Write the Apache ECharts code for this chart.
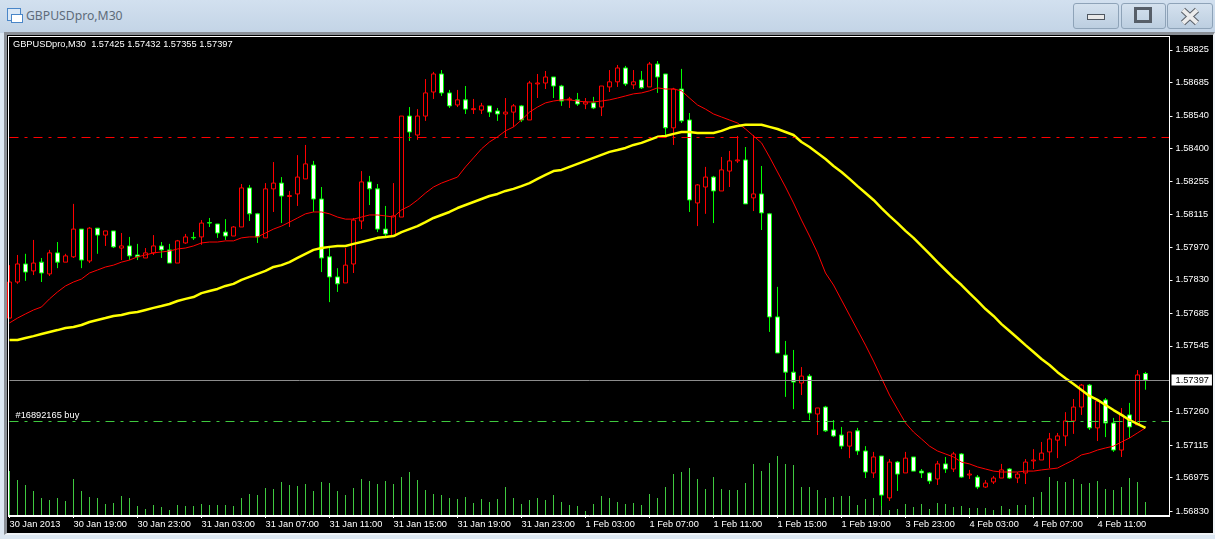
<!DOCTYPE html>
<html>
<head>
<meta charset="utf-8">
<title>GBPUSDpro,M30</title>
<script src="https://cdn.jsdelivr.net/npm/echarts@6/dist/echarts.min.js"></script>
<style>
html, body { margin: 0; padding: 0; width: 1215px; height: 539px; overflow: hidden; }
body { position: relative; background: linear-gradient(#d2e0ef 0, #c3d4e6 33px, #dce7f2 33px); font-family: "Noto Sans", sans-serif; }
#panel { position: absolute; left: 4px; top: 32px; width: 1206px; height: 498px; background: #000; border-left: 3px solid #8a8f96; border-top: 3px solid #8a8f96; border-right: 2px solid #f0f4f8; border-bottom: 2px solid #f0f4f8; }
#frame { position: absolute; left: 8px; top: 36px; width: 1160px; height: 479px; border: 1px solid #fff; pointer-events: none; }
#chart { position: absolute; left: 0; top: 0; width: 1215px; height: 539px; }
#name { position: absolute; left: 26px; top: 7px; font-size: 12.2px; line-height: 18px; color: #5d6b7a; }
#icon { position: absolute; left: 7px; top: 8px; width: 12px; height: 11px; border: 1px solid #4a86c8; background: #dbe8f6; }
#icon i { position: absolute; left: 3px; top: 5px; width: 10px; height: 7px; background: #fff; border: 1px solid #4a86c8; }
.btn { position: absolute; top: 3px; height: 24px; border: 1px solid #8ea3b8; border-radius: 3px; background: linear-gradient(#d4e1ee, #bccee0); }
.glyph { position: absolute; background: #e8e8e8; border: 1px solid #4e5660; box-sizing: border-box; }
</style>
</head>
<body>
<div id="panel"></div>
<div id="icon"><i></i></div>
<div id="name">GBPUSDpro,M30</div>
<div class="btn" style="left:1073px;width:44px"><div class="glyph" style="left:13px;top:10px;width:18px;height:6px"></div></div>
<div class="btn" style="left:1121px;width:43px"><div class="glyph" style="left:12px;top:3px;width:18px;height:16px;border-width:3px;background:transparent;border-color:#565e68"></div></div>
<div class="btn" style="left:1167px;width:44px"><svg width="44" height="24"><path d="M15 6 L29 19 M29 6 L15 19" stroke="#5a6068" stroke-width="6"/><path d="M15 6 L29 19 M29 6 L15 19" stroke="#ececec" stroke-width="4"/></svg></div>
<div id="chart"></div>
<div id="frame"></div>
<script>
const symbol = 'GBPUSDpro,M30';
const tickLabels = ['30 Jan 2013', '30 Jan 19:00', '30 Jan 23:00', '31 Jan 03:00', '31 Jan 07:00', '31 Jan 11:00',
  '31 Jan 15:00', '31 Jan 19:00', '31 Jan 23:00', '1 Feb 03:00', '1 Feb 07:00', '1 Feb 11:00',
  '1 Feb 15:00', '1 Feb 19:00', '3 Feb 23:00', '4 Feb 03:00', '4 Feb 07:00', '4 Feb 11:00'];
const priceTicks = [1.58825, 1.58685, 1.58540, 1.58400, 1.58255, 1.58115, 1.57970, 1.57830, 1.57685, 1.57545,
  1.57260, 1.57115, 1.56975, 1.56830];

const opens = [
  1.57665,1.57821,1.57899,1.57869,1.57907,1.57856,1.57947,1.57907,1.57930,1.58050,
  1.57912,1.58054,1.58024,1.58042,1.57968,1.57977,1.57938,1.57925,1.57947,1.57977,
  1.57960,1.57903,1.57990,1.58014,1.58016,1.58078,1.58072,1.58037,1.58020,1.58059,
  1.58228,1.58116,1.58012,1.58224,1.58249,1.58191,1.58202,1.58267,1.58327,1.58180,
  1.57930,1.57843,1.57817,1.57899,1.58085,1.58254,1.58224,1.58050,1.58020,1.58102,
  1.58539,1.58457,1.58539,1.58643,1.58721,1.58639,1.58587,1.58609,1.58567,1.58565,
  1.58583,1.58561,1.58548,1.58556,1.58583,1.58522,1.58678,1.58682,1.58708,1.58669,
  1.58609,1.58609,1.58591,1.58596,1.58578,1.58665,1.58687,1.58747,1.58674,1.58695,
  1.58665,1.58764,1.58721,1.58488,1.58656,1.58522,1.58163,1.58232,1.58275,1.58215,
  1.58301,1.58345,1.58349,1.58185,1.58202,1.58116,1.57670,1.57505,1.57431,1.57384,
  1.57414,1.57250,1.57280,1.57181,1.57159,1.57111,1.57177,1.57090,1.56995,1.57068,
  1.56887,1.57042,1.56995,1.57064,1.57003,1.56995,1.56969,1.57034,1.57012,1.57077,
  1.56986,1.56977,1.56934,1.56956,1.56973,1.57012,1.56973,1.56995,1.57047,1.57051,
  1.57086,1.57137,1.57155,1.57220,1.57280,1.57375,1.57190,1.57311,1.57211,1.57094,
  1.57246,1.57203,1.57425];
const highs = [
  1.57894,1.57938,1.57943,1.58003,1.57925,1.57960,1.57994,1.57943,1.58159,1.58050,
  1.58059,1.58054,1.58042,1.58042,1.58033,1.58016,1.57986,1.57968,1.58024,1.57994,
  1.57986,1.58003,1.58029,1.58037,1.58089,1.58098,1.58072,1.58093,1.58063,1.58245,
  1.58241,1.58120,1.58249,1.58340,1.58275,1.58215,1.58370,1.58414,1.58345,1.58232,
  1.57968,1.57881,1.57968,1.58098,1.58301,1.58280,1.58245,1.58150,1.58249,1.58539,
  1.58578,1.58569,1.58699,1.58730,1.58738,1.58652,1.58652,1.58669,1.58613,1.58596,
  1.58583,1.58574,1.58617,1.58591,1.58587,1.58691,1.58721,1.58734,1.58708,1.58674,
  1.58622,1.58639,1.58617,1.58622,1.58669,1.58738,1.58760,1.58756,1.58738,1.58734,
  1.58773,1.58777,1.58721,1.58661,1.58743,1.58552,1.58245,1.58319,1.58280,1.58362,
  1.58388,1.58453,1.58405,1.58457,1.58323,1.58120,1.57800,1.57566,1.57527,1.57453,
  1.57423,1.57276,1.57285,1.57224,1.57194,1.57172,1.57190,1.57111,1.57086,1.57068,
  1.57055,1.57047,1.57086,1.57064,1.57012,1.56999,1.57047,1.57064,1.57086,1.57081,
  1.57008,1.56986,1.56964,1.56982,1.57034,1.57016,1.56999,1.57055,1.57098,1.57129,
  1.57168,1.57168,1.57258,1.57315,1.57380,1.57380,1.57311,1.57319,1.57233,1.57276,
  1.57298,1.57440,1.57432];
const lows = [
  1.57665,1.57813,1.57826,1.57851,1.57821,1.57847,1.57881,1.57907,1.57925,1.57881,
  1.57903,1.57943,1.57977,1.57968,1.57916,1.57916,1.57916,1.57925,1.57938,1.57925,
  1.57903,1.57903,1.57986,1.58003,1.57982,1.58059,1.58012,1.58003,1.58020,1.58059,
  1.58085,1.57990,1.58012,1.58124,1.58076,1.58059,1.58150,1.58267,1.58124,1.57864,
  1.57734,1.57778,1.57817,1.57860,1.58050,1.58154,1.58037,1.58016,1.58020,1.58102,
  1.58431,1.58436,1.58518,1.58613,1.58626,1.58574,1.58578,1.58548,1.58548,1.58548,
  1.58535,1.58518,1.58449,1.58492,1.58513,1.58522,1.58617,1.58656,1.58617,1.58583,
  1.58574,1.58583,1.58569,1.58569,1.58539,1.58643,1.58665,1.58669,1.58656,1.58656,
  1.58665,1.58639,1.58449,1.58414,1.58509,1.58124,1.58063,1.58116,1.58076,1.58215,
  1.58232,1.58336,1.58159,1.58128,1.58046,1.57605,1.57514,1.57324,1.57271,1.57332,
  1.57224,1.57159,1.57172,1.57150,1.57098,1.57059,1.57073,1.56973,1.56973,1.56852,
  1.56874,1.56917,1.56995,1.57003,1.56973,1.56947,1.56943,1.56995,1.56999,1.56973,
  1.56969,1.56925,1.56930,1.56947,1.56973,1.56969,1.56951,1.56947,1.57012,1.57051,
  1.57016,1.57059,1.57111,1.57164,1.57246,1.57181,1.57133,1.57150,1.57086,1.57064,
  1.57146,1.57203,1.57355];
const closes = [
  1.57821,1.57899,1.57864,1.57903,1.57860,1.57947,1.57907,1.57934,1.58050,1.57916,
  1.58054,1.58024,1.58042,1.57973,1.57977,1.57934,1.57930,1.57947,1.57977,1.57960,
  1.57903,1.57999,1.58016,1.58012,1.58076,1.58076,1.58033,1.58020,1.58059,1.58228,
  1.58116,1.58016,1.58224,1.58249,1.58193,1.58195,1.58275,1.58332,1.58180,1.57925,
  1.57843,1.57813,1.57894,1.58089,1.58254,1.58224,1.58050,1.58029,1.58107,1.58539,
  1.58470,1.58539,1.58639,1.58721,1.58639,1.58583,1.58609,1.58569,1.58571,1.58583,
  1.58556,1.58548,1.58556,1.58583,1.58522,1.58682,1.58682,1.58708,1.58669,1.58604,
  1.58613,1.58591,1.58600,1.58574,1.58669,1.58687,1.58747,1.58678,1.58687,1.58661,
  1.58764,1.58708,1.58488,1.58656,1.58518,1.58176,1.58241,1.58275,1.58215,1.58306,
  1.58345,1.58349,1.58159,1.58202,1.58120,1.57670,1.57514,1.57431,1.57388,1.57414,
  1.57254,1.57276,1.57177,1.57155,1.57111,1.57172,1.57090,1.56999,1.57064,1.56899,
  1.57042,1.56990,1.57059,1.57003,1.56995,1.56960,1.57034,1.57012,1.57077,1.56977,
  1.56990,1.56934,1.56951,1.56973,1.57008,1.56973,1.56990,1.57042,1.57051,1.57081,
  1.57142,1.57155,1.57220,1.57280,1.57375,1.57190,1.57306,1.57211,1.57094,1.57246,
  1.57194,1.57419,1.57397];
const fastMa = [
  1.57644,1.57665,1.57683,1.57700,1.57713,1.57748,1.57778,1.57804,1.57821,1.57834,
  1.57860,1.57873,1.57886,1.57894,1.57907,1.57916,1.57930,1.57938,1.57947,1.57951,
  1.57955,1.57964,1.57968,1.57977,1.57990,1.57994,1.57994,1.57999,1.57999,1.58012,
  1.58016,1.58016,1.58033,1.58050,1.58063,1.58080,1.58098,1.58116,1.58124,1.58124,
  1.58116,1.58102,1.58093,1.58093,1.58102,1.58111,1.58111,1.58107,1.58102,1.58133,
  1.58150,1.58176,1.58206,1.58232,1.58249,1.58262,1.58275,1.58319,1.58358,1.58397,
  1.58427,1.58449,1.58475,1.58492,1.58522,1.58556,1.58578,1.58596,1.58604,1.58609,
  1.58609,1.58604,1.58600,1.58600,1.58604,1.58609,1.58617,1.58626,1.58635,1.58639,
  1.58648,1.58661,1.58656,1.58656,1.58648,1.58617,1.58587,1.58569,1.58548,1.58535,
  1.58522,1.58509,1.58483,1.58453,1.58423,1.58362,1.58297,1.58232,1.58163,1.58089,
  1.58020,1.57947,1.57860,1.57808,1.57743,1.57678,1.57613,1.57548,1.57479,1.57405,
  1.57332,1.57271,1.57211,1.57172,1.57142,1.57111,1.57090,1.57077,1.57064,1.57042,
  1.57034,1.57021,1.57012,1.57003,1.56999,1.56999,1.56999,1.57003,1.57003,1.57008,
  1.57012,1.57016,1.57034,1.57051,1.57073,1.57081,1.57094,1.57103,1.57111,1.57129,
  1.57146,1.57168,1.57190];
const slowMa = [
  1.57570,1.57570,1.57579,1.57587,1.57596,1.57605,1.57613,1.57622,1.57626,1.57635,
  1.57648,1.57657,1.57665,1.57674,1.57678,1.57687,1.57691,1.57700,1.57709,1.57717,
  1.57726,1.57739,1.57748,1.57756,1.57773,1.57782,1.57791,1.57804,1.57813,1.57830,
  1.57843,1.57856,1.57869,1.57886,1.57894,1.57907,1.57925,1.57943,1.57960,1.57968,
  1.57973,1.57977,1.57977,1.57986,1.57994,1.58003,1.58012,1.58016,1.58020,1.58037,
  1.58050,1.58063,1.58080,1.58098,1.58111,1.58124,1.58141,1.58154,1.58167,1.58180,
  1.58193,1.58202,1.58215,1.58224,1.58236,1.58249,1.58267,1.58284,1.58301,1.58306,
  1.58319,1.58332,1.58345,1.58358,1.58371,1.58384,1.58392,1.58401,1.58414,1.58423,
  1.58436,1.58449,1.58453,1.58462,1.58470,1.58470,1.58466,1.58466,1.58466,1.58475,
  1.58488,1.58496,1.58501,1.58501,1.58501,1.58492,1.58483,1.58470,1.58457,1.58427,
  1.58405,1.58379,1.58353,1.58323,1.58297,1.58267,1.58236,1.58206,1.58176,1.58141,
  1.58107,1.58076,1.58042,1.58012,1.57977,1.57943,1.57907,1.57873,1.57839,1.57808,
  1.57773,1.57739,1.57704,1.57674,1.57639,1.57609,1.57579,1.57548,1.57518,1.57488,
  1.57462,1.57431,1.57405,1.57380,1.57354,1.57328,1.57311,1.57289,1.57267,1.57246,
  1.57224,1.57207,1.57190];
const volumes = [
  440,350,300,240,170,150,170,140,360,240,180,170,110,120,190,170,90,60,100,80,
  50,100,90,90,110,100,100,100,90,170,210,200,270,260,330,300,290,310,240,330,
  320,240,200,270,360,340,310,340,310,380,430,350,250,210,200,170,160,180,120,160,
  130,160,280,170,110,150,170,150,200,130,100,90,40,110,190,170,130,110,120,100,
  210,170,280,410,430,470,360,260,380,260,250,250,320,510,440,520,590,510,500,280,
  280,250,170,180,190,190,100,160,170,200,50,60,110,80,110,60,120,110,80,90,
  70,70,70,50,90,60,100,100,180,230,380,340,330,360,310,320,340,260,250,280,
  370,330,130];

const currentPrice = closes[closes.length - 1];
const orderPrice = 1.57220;
const orderLabel = '#16892165 buy';
const levelPrice = 1.58449;

// bars plus 3 empty slots on the right
const categories = [];
for (let i = 0; i < closes.length + 3; i++) {
  categories.push(i % 8 === 0 && tickLabels[i / 8] ? tickLabels[i / 8] : '');
}
const candles = closes.map((c, i) => [opens[i], c, lows[i], highs[i]]);
const last = closes.length - 1;
const infoText = symbol + '  ' + [opens[last], highs[last], lows[last], closes[last]].map(v => v.toFixed(5)).join(' ');
const font = 'Liberation Sans';
const fontSize = 9.25;

const chart = echarts.init(document.getElementById('chart'), null, { renderer: 'canvas' });
chart.setOption({
  animation: false,
  backgroundColor: 'transparent',
  title: {
    text: infoText,
    left: 13,
    top: 40,
    padding: 0,
    textStyle: { color: '#fff', fontFamily: font, fontSize: fontSize, fontWeight: 'normal' }
  },
  grid: { left: 9.5, top: 37, width: 1160, height: 478 },
  xAxis: {
    type: 'category',
    data: categories,
    boundaryGap: false,
    axisLine: { lineStyle: { color: '#fff', width: 1 } },
    axisTick: { length: 3, alignWithLabel: true, interval: (i, v) => v !== '', lineStyle: { color: '#fff' } },
    axisLabel: {
      interval: (i, v) => v !== '',
      align: 'left',
      color: '#fff',
      fontFamily: font,
      fontSize: fontSize,
      margin: 5,
      hideOverlap: false
    },
    splitLine: { show: false }
  },
  yAxis: [{
    type: 'value',
    position: 'right',
    min: 1.56813,
    max: 1.58881,
    scale: true,
    axisLine: { show: true, lineStyle: { color: '#fff', width: 1 } },
    axisTick: { show: true, length: 3, customValues: priceTicks, lineStyle: { color: '#fff' } },
    axisLabel: {
      customValues: priceTicks,
      formatter: v => v.toFixed(5),
      color: '#fff',
      fontFamily: font,
      fontSize: fontSize,
      margin: 6
    },
    splitLine: { show: false }
  }, {
    // tick volume sits in the bottom of the same pane
    type: 'value',
    show: false,
    min: 0,
    max: 4780,
    splitLine: { show: false }
  }],
  series: [{
    name: 'Volume',
    type: 'bar',
    yAxisIndex: 1,
    data: volumes,
    barWidth: 1,
    itemStyle: { color: '#3fc93f' }
  }, {
    name: symbol,
    type: 'candlestick',
    data: candles,
    barWidth: 5,
    itemStyle: {
      color: '#000',
      color0: '#fff',
      borderColor: '#f00',
      borderColor0: '#0f0',
      borderWidth: 1
    }
  }, {
    name: 'MA fast',
    type: 'line',
    data: fastMa,
    showSymbol: false,
    lineStyle: { color: '#f00', width: 1 },
    markLine: {
      silent: true,
      symbol: 'none',
      animation: false,
      precision: 5,
      data: [{
        yAxis: currentPrice,
        lineStyle: { color: '#8c8c8c', type: 'solid', width: 1 },
        label: {
          position: 'end',
          distance: 2,
          formatter: () => currentPrice.toFixed(5),
          color: '#000',
          backgroundColor: '#fff',
          padding: [1, 3, 1, 4],
          fontFamily: font,
          fontSize: fontSize
        }
      }, {
        yAxis: orderPrice,
        lineStyle: { color: '#3fc93f', type: [9, 6, 3, 6], width: 1 },
        label: {
          position: 'insideStartTop',
          distance: [6, 1],
          formatter: () => orderLabel,
          color: '#fff',
          fontFamily: font,
          fontSize: fontSize
        }
      }, {
        yAxis: levelPrice,
        lineStyle: { color: '#f00', type: [9, 6, 3, 6], width: 1 },
        label: { show: false }
      }]
    }
  }, {
    name: 'MA slow',
    type: 'line',
    data: slowMa,
    showSymbol: false,
    lineStyle: { color: '#ff0', width: 2.5 }
  }]
});
</script>
</body>
</html>
